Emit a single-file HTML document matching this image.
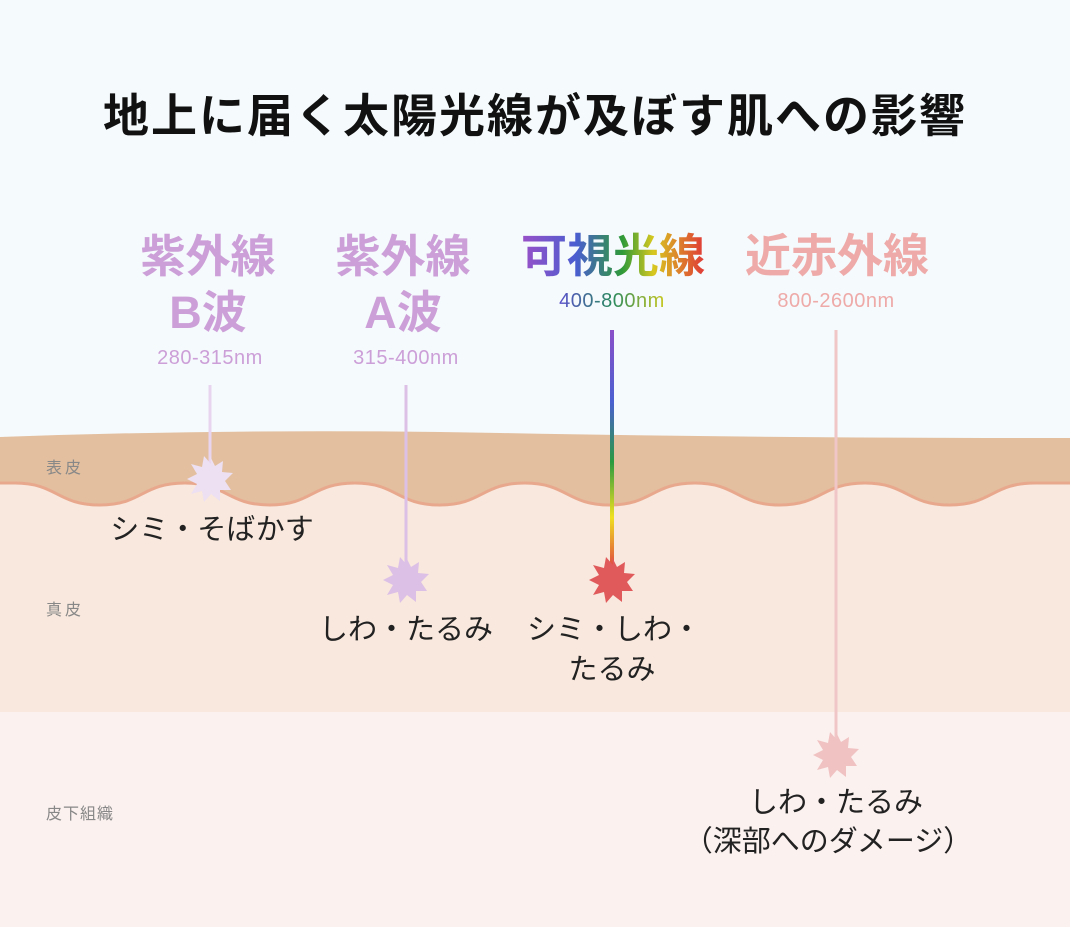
<!DOCTYPE html>
<html><head><meta charset="utf-8"><style>
body{margin:0;width:1070px;height:927px;overflow:hidden;background:#f5fafc;font-family:"Liberation Sans","Noto Sans CJK JP",sans-serif}
svg{display:block}
</style></head><body>
<svg width="1070" height="927" viewBox="0 0 1070 927" xmlns="http://www.w3.org/2000/svg" font-family="Liberation Sans, Noto Sans CJK JP, sans-serif">
<defs>
<linearGradient id="vl" x1="0" y1="0" x2="0" y2="1">
<stop offset="0" stop-color="#8a4fc8"/><stop offset="0.3" stop-color="#4a60d0"/><stop offset="0.55" stop-color="#2a9a40"/><stop offset="0.78" stop-color="#f0e020"/><stop offset="1" stop-color="#e04040"/></linearGradient>
<linearGradient id="vt" x1="0" y1="0" x2="1" y2="0">
<stop offset="0" stop-color="#9a50c8"/><stop offset="0.3" stop-color="#4a5ed0"/><stop offset="0.55" stop-color="#2e9a38"/><stop offset="0.72" stop-color="#d8c820"/><stop offset="1" stop-color="#e03838"/></linearGradient>
<linearGradient id="vn" x1="0" y1="0" x2="1" y2="0">
<stop offset="0" stop-color="#5a50cc"/><stop offset="0.5" stop-color="#2a8a60"/><stop offset="1" stop-color="#c8c820"/></linearGradient>
</defs>
<rect x="0" y="700" width="1070" height="227" fill="#fbf1ef"/>
<rect x="0" y="470" width="1070" height="242" fill="#f9e8dd"/>
<path d="M0,437 Q250,428 500,433 T1070,438 L1070,483 Q1035,483 1035,483 C992,483 992,505 950,505 C907,505 907,483 865,483 C822,483 822,505 780,505 C737,505 737,483 695,483 C652,483 652,505 610,505 C567,505 567,483 525,483 C482,483 482,505 440,505 C397,505 397,483 355,483 C312,483 312,505 270,505 C227,505 227,483 185,483 C142,483 142,505 100,505 C57,505 57,483 15,483 L0,483 Z" fill="#e3bf9f"/>
<path d="M1070,483 C1035,483 1035,483 1035,483 C992,483 992,505 950,505 C907,505 907,483 865,483 C822,483 822,505 780,505 C737,505 737,483 695,483 C652,483 652,505 610,505 C567,505 567,483 525,483 C482,483 482,505 440,505 C397,505 397,483 355,483 C312,483 312,505 270,505 C227,505 227,483 185,483 C142,483 142,505 100,505 C57,505 57,483 15,483 L0,483" fill="none" stroke="#e8a88e" stroke-width="3"/>
<text x="535" y="132" text-anchor="middle" font-size="46" font-weight="bold" letter-spacing="2" fill="#111">地上に届く太陽光線が及ぼす肌への影響</text>
<g font-weight="bold" font-size="45" text-anchor="middle">
<text x="208" y="272" fill="#cc9fd8">紫外線</text>
<text x="208" y="328" fill="#cc9fd8">B波</text>
<text x="403" y="272" fill="#cc9fd8">紫外線</text>
<text x="403" y="328" fill="#cc9fd8">A波</text>
<text x="613" y="272" font-size="46" fill="url(#vt)">可視光線</text>
<text x="837" y="272" font-size="46" fill="#eeaaa8">近赤外線</text>
</g>
<g font-size="20" text-anchor="middle" letter-spacing="0.5">
<text x="210" y="364" fill="#cc9fd8">280-315nm</text>
<text x="406" y="364" fill="#cc9fd8">315-400nm</text>
<text x="612" y="307" fill="url(#vn)">400-800nm</text>
<text x="836" y="307" fill="#eeaaa8">800-2600nm</text>
</g>
<rect x="208.5" y="385" width="3" height="88" fill="#e8d4ee"/>
<rect x="404.5" y="385" width="3" height="185" fill="#dcc0e6"/>
<rect x="610" y="330" width="4" height="240" fill="url(#vl)"/>
<rect x="834.5" y="330" width="3" height="418" fill="#f0c6c6"/>
<g>
<polygon transform="translate(210,479)" fill="#ece0f2" points="0,-23 5,-13 13,-18 12,-7 23,-6 15,2 21,11 10,11 10,22 1,15 -6,23 -8,12 -19,15 -13,5 -23,0 -13,-5 -19,-15 -8,-12 -6,-23 1,-15"/>
<polygon transform="translate(406,580)" fill="#dcc0e6" points="0,-23 5,-13 13,-18 12,-7 23,-6 15,2 21,11 10,11 10,22 1,15 -6,23 -8,12 -19,15 -13,5 -23,0 -13,-5 -19,-15 -8,-12 -6,-23 1,-15"/>
<polygon transform="translate(612,580)" fill="#e05a5c" points="0,-23 5,-13 13,-18 12,-7 23,-6 15,2 21,11 10,11 10,22 1,15 -6,23 -8,12 -19,15 -13,5 -23,0 -13,-5 -19,-15 -8,-12 -6,-23 1,-15"/>
<polygon transform="translate(836,755)" fill="#f0c2c2" points="0,-23 5,-13 13,-18 12,-7 23,-6 15,2 21,11 10,11 10,22 1,15 -6,23 -8,12 -19,15 -13,5 -23,0 -13,-5 -19,-15 -8,-12 -6,-23 1,-15"/>
</g>
<g font-size="29" fill="#222" text-anchor="middle">
<text x="212" y="539">シミ・そばかす</text>
<text x="406" y="639">しわ・たるみ</text>
<text x="614" y="639">シミ・しわ・</text>
<text x="612" y="679">たるみ</text>
<text x="836" y="812">しわ・たるみ</text>
<text x="828" y="851">（深部へのダメージ）</text>
</g>
<g font-size="16" fill="#888" letter-spacing="3">
<text x="46" y="473">表皮</text>
<text x="46" y="615">真皮</text>
<text x="46" y="819" letter-spacing="1">皮下組織</text>
</g>
</svg>
</body></html>
